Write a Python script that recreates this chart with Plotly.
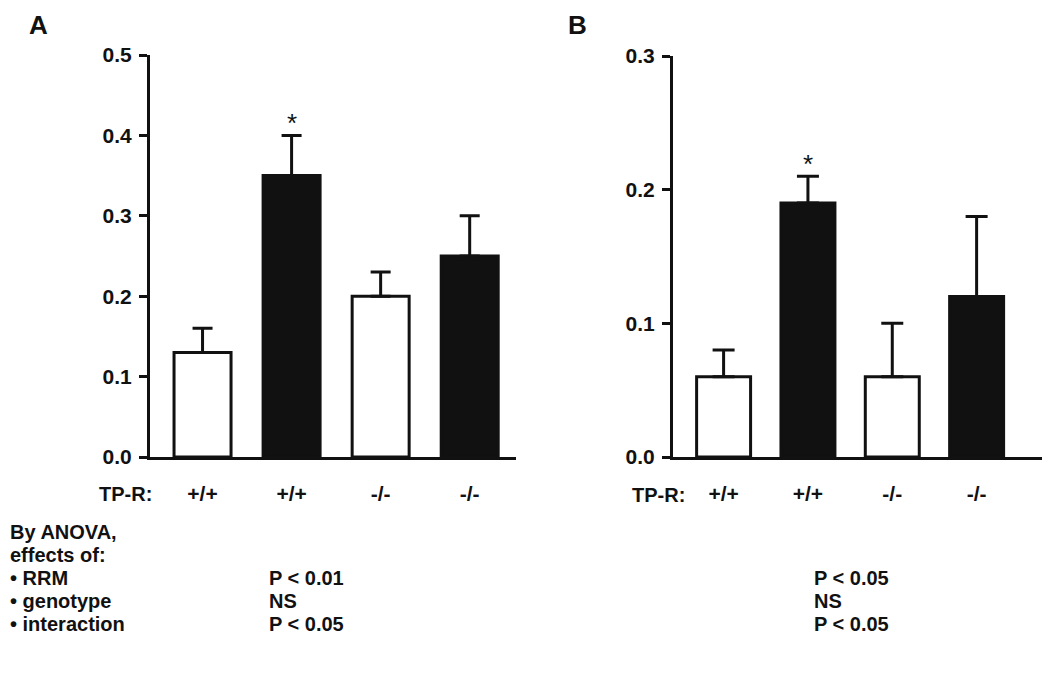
import plotly.graph_objects as go

# page body has an 8px default margin; figure is sized to fill the rest of the window
OFF = 8
FW, FH = 1050 - OFF, 683 - OFF

genotype_labels = ["+/+", "+/+", "-/-", "-/-"]
rrm_treated = [False, True, False, True]
panelA_means = [0.13, 0.35, 0.20, 0.25]
panelA_sem = [0.03, 0.05, 0.03, 0.05]
panelB_means = [0.06, 0.19, 0.06, 0.12]
panelB_sem = [0.02, 0.02, 0.04, 0.06]
panelA_ticks = [0.0, 0.1, 0.2, 0.3, 0.4, 0.5]
panelB_ticks = [0.0, 0.1, 0.2, 0.3]
anova_effects = ["• RRM", "• genotype", "• interaction"]
anova_A = ["P < 0.01", "NS", "P < 0.05"]
anova_B = ["P < 0.05", "NS", "P < 0.05"]

FONT = "Liberation Sans, Arial, sans-serif"
BLACK = "#111111"

def px_x(p):
    return max(p - OFF, 0) / FW

def px_y(p):
    return min(1 - (p - OFF) / FH, 1)

fill = [BLACK if t else "white" for t in rrm_treated]
xs = list(range(len(genotype_labels)))

fig = go.Figure()
for means, sem, ax, cap in [(panelA_means, panelA_sem, "", 10), (panelB_means, panelB_sem, "2", 11)]:
    fig.add_trace(go.Bar(
        x=xs, y=means, width=0.64,
        marker=dict(color=fill, line=dict(color=BLACK, width=3)),
        error_y=dict(type="data", array=sem, arrayminus=[0] * len(sem), symmetric=False,
                     color=BLACK, thickness=3, width=cap),
        xaxis="x" + ax, yaxis="y" + ax, showlegend=False,
    ))

tickfont = dict(family=FONT, size=21, color=BLACK, weight="bold")
axis_common = dict(showgrid=False, zeroline=False, showline=True, linecolor=BLACK,
                   linewidth=3, automargin=False)

fig.update_layout(
    width=FW, height=FH,
    margin=dict(l=0, r=0, t=0, b=0, pad=0, autoexpand=False),
    paper_bgcolor="white", plot_bgcolor="white",
    xaxis=dict(domain=[px_x(150), px_x(516)], range=[-0.59, 3.52], anchor="y",
               tickvals=xs, ticktext=genotype_labels, ticks="", ticklabelstandoff=16,
               tickfont=tickfont, **axis_common),
    yaxis=dict(domain=[px_y(457), px_y(55)], range=[0, 0.5], anchor="x",
               tickvals=panelA_ticks, tickformat=".1f", ticks="outside", ticklen=8,
               tickwidth=3, tickcolor=BLACK, ticklabelstandoff=3,
               tickfont=tickfont, **axis_common),
    xaxis2=dict(domain=[px_x(673), px_x(1050)], range=[-0.60, 3.87], anchor="y2",
                tickvals=xs, ticktext=genotype_labels, ticks="", ticklabelstandoff=16,
                tickfont=tickfont, **axis_common),
    yaxis2=dict(domain=[px_y(457), px_y(56)], range=[0, 0.3], anchor="x2",
                tickvals=panelB_ticks, tickformat=".1f", ticks="outside", ticklen=8,
                tickwidth=3, tickcolor=BLACK, ticklabelstandoff=3,
                tickfont=tickfont, **axis_common),
)

ann = []
textfont = dict(family=FONT, size=20, color=BLACK, weight="bold")
letterfont = dict(family=FONT, size=26, color=BLACK, weight="bold")
starfont = dict(family=FONT, size=26, color=BLACK)

def pann(text, x, y, anchor="left", font=textfont, yanchor="middle"):
    ann.append(dict(text=text, x=px_x(x), y=px_y(y), xref="paper", yref="paper",
                    xanchor=anchor, yanchor=yanchor, showarrow=False, font=font))

pann("A", 27, OFF, font=letterfont, yanchor="top")
pann("B", 566, OFF, font=letterfont, yanchor="top")
ann.append(dict(text="*", x=1, y=panelA_means[1] + panelA_sem[1], xref="x", yref="y",
                yanchor="bottom", yshift=-5, showarrow=False, font=starfont))
ann.append(dict(text="*", x=1, y=panelB_means[1] + panelB_sem[1], xref="x2", yref="y2",
                yanchor="bottom", yshift=-5, showarrow=False, font=starfont))
pann("TP-R:", 154, 494, anchor="right")
pann("TP-R:", 687, 495, anchor="right")
pann("By ANOVA,", 4, 532)
pann("effects of:", 4, 555)
row_y = [578, 601, 624]
for lbl, pa, pb, yy in zip(anova_effects, anova_A, anova_B, row_y):
    pann(lbl, 0, yy)
    pann(pa, 267, yy)
    pann(pb, 812, yy)
fig.update_layout(annotations=ann)

fig.write_html("out.html")
